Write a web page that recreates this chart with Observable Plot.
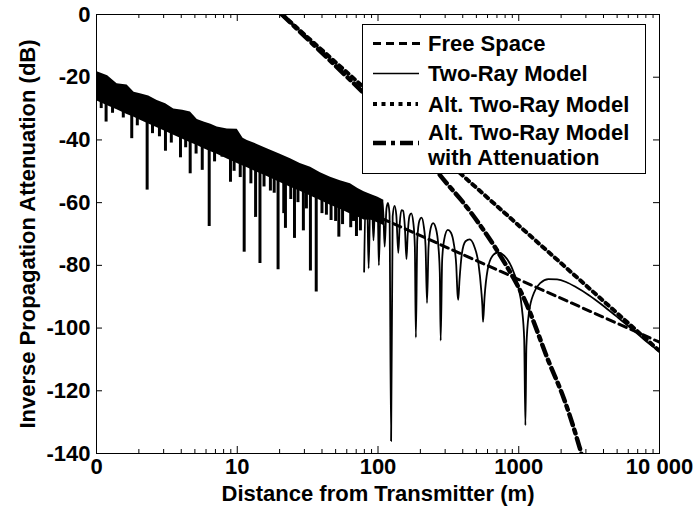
<!DOCTYPE html>
<html><head><meta charset="utf-8">
<script src="https://cdn.jsdelivr.net/npm/d3@7"></script>
<script src="https://cdn.jsdelivr.net/npm/@observablehq/plot@0.6"></script>
<style>
body{margin:0;background:#fff;}
#wrap{position:relative;width:693px;height:511px;overflow:hidden;}
#legend{position:absolute;left:362px;top:24px;width:284px;height:150px;box-sizing:border-box;border:1px solid #000;background:#fff;}
</style></head><body><div id="wrap"></div>
<script>
// ---- data ----
const freeSpaceD = [1, 10000];
const freeSpaceDb = [-24.5, -104.5];

const altD = [20.8, 10000];
const altDb = [0, -107.3];

const attD = [20.8, 50, 100, 150, 200, 310, 392, 565, 716, 1114, 1636, 2097, 2692, 2950];
const attDb = [0, -16.4, -29.5, -37.5, -43.5, -54, -59.3, -68.9, -75.9, -91.5, -110.8, -122.6, -137.7, -144];

// dense (unresolved) part of the two-ray curve: band envelope
const massD = [1, 1.2, 1.4, 1.65, 1.85, 2.05, 2.35, 2.7, 3.1, 3.54, 4.1, 4.65, 5.2, 5.8, 6.5, 7.2, 8.5, 10, 11, 11.8, 14, 16.3, 20, 23.9, 28, 33.2, 39, 46, 54, 63.7, 72, 79.7, 90, 100, 110];
const massTop = [-18.2, -19.5, -22.1, -22.5, -24.8, -25.3, -26, -27.4, -28.5, -30.1, -30.5, -31.1, -33.5, -34.3, -35, -35.9, -36.5, -36.6, -39.5, -40.2, -41.5, -42.8, -44.5, -46.0, -47.5, -48.7, -50.5, -51.9, -53, -54.0, -55.5, -56.5, -57.5, -58.3, -59.2];
const massBottom = [-27.5, -29.1, -30.4, -31.9, -32.8, -33.7, -34.9, -36.1, -37.3, -38.5, -39.8, -40.9, -41.8, -42.8, -43.8, -44.6, -46.1, -47.5, -48.3, -48.9, -50.4, -51.7, -53.5, -55.1, -56.4, -57.9, -59.3, -60.8, -62.1, -63.6, -64.6, -65.5, -65.6, -66.5, -67.3];

// sampled nulls showing as spikes in the dense part
const spikeD = [1.08, 1.17, 1.3, 1.55, 1.78, 1.95, 2.29, 2.5, 2.8, 3.09, 3.4, 3.95, 4.3, 4.63, 5.1, 5.64, 6.32, 6.9, 7.8, 8.95, 9.5, 10.5, 11.2, 12.5, 13.5, 14.5, 15.5, 17.2, 18.3, 19.5, 21.4, 22, 24, 25.5, 27, 29.5, 31, 33.1, 36.4, 40, 43, 46.4, 50, 52.7, 56, 58.7, 64, 67, 70.3, 75];
const spikeTop = [-26, -26, -28, -30, -30, -31, -31, -34, -35, -34, -36, -36, -37, -37.5, -39, -39, -40, -41, -42, -43.5, -44, -45, -45, -46, -47, -47.5, -48, -49, -49.5, -50, -51, -51, -52, -52.5, -53, -53.5, -54, -54.5, -55.5, -56.5, -57, -57.5, -58, -58.5, -59, -59.5, -60.5, -60.5, -61, -62];
const spikeDepth = [-30, -34.3, -31.5, -33, -39.6, -35.5, -56, -38, -39, -43.6, -41, -45.7, -42.5, -50.8, -44.5, -49.7, -67.6, -47, -45.5, -53.5, -50, -52, -75.8, -54, -64.7, -79.4, -55, -56.3, -57, -81.4, -63.5, -68.2, -59, -71.4, -60, -69, -62, -81.8, -88.5, -63.5, -64, -65.7, -66, -71, -67, -62, -68, -66, -70.8, -69];

// resolved lobes of the two-ray curve
const lobeD = [79.7, 81.8, 83.7, 85.8, 88.2, 90.4, 92.9, 95.5, 98.0, 100.0, 101.4, 104.4, 106.9, 109.3, 111.5, 114.8, 117.7, 120.7, 123.9, 127.1, 131.0, 134.9, 139.4, 142.8, 146.8, 150.7, 155.1, 159.3, 162.5, 167.5, 172.4, 178.3, 182.7, 185.8, 190.1, 197.0, 203.9, 211.8, 217.7, 223.0, 228.5, 236.4, 246.3, 258.1, 267.9, 274.8, 278.8, 285.7, 295.5, 313.2, 330.0, 346.7, 359.5, 367.4, 371.7, 379.2, 394.0, 418.6, 448.2, 482.7, 517.1, 541.8, 551.6, 557.5, 571.3, 600.9, 650.1, 709.2, 788, 886.5, 985, 1054, 1093, 1115, 1133, 1182, 1281, 1428, 1625, 1872, 2167, 2561, 3152, 3940, 4925, 6403, 7880, 10000];
const lobeDb = [-82, -57.7, -58.6, -81, -58.5, -59.0, -72, -59.5, -59.1, -65.3, -80, -60.4, -59.4, -64.1, -74, -62.0, -60.1, -63.5, -136, -64.4, -61.0, -63.9, -76, -66.6, -62.4, -62.6, -67.5, -78, -70.3, -64.2, -63.4, -66.5, -73.9, -103, -71.9, -65.7, -64.8, -67.8, -73.9, -92, -74.4, -68.3, -66.5, -68.3, -73.4, -82.3, -104, -78.2, -71.7, -68.7, -69.6, -73.5, -79.8, -89.2, -91, -84.8, -76.4, -72.3, -71.7, -73.9, -79.4, -88.1, -93, -98, -90.2, -81.4, -77.0, -75.9, -76.9, -80.4, -86.4, -93.9, -103.5, -131, -105.9, -95.1, -88.8, -85.6, -84.4, -84.5, -85.3, -87.0, -89.5, -92.7, -96.2, -100.4, -103.9, -107.5];

const xTicks = [1, 10, 100, 1000, 10000];
const xTickLabels = ["0", "10", "100", "1000", "10 000"];
const xMinor = [2,3,4,5,6,7,8,9,20,30,40,50,60,70,80,90,200,300,400,500,600,700,800,900,2000,3000,4000,5000,6000,7000,8000,9000];
const yTicks = [0, -20, -40, -60, -80, -100, -120, -140];

const xLabel = "Distance from Transmitter (m)";
const yLabel = "Inverse Propagation Attenuation (dB)";
const legendLabels = ["Free Space", "Two-Ray Model", "Alt. Two-Ray Model", "Alt. Two-Ray Model", "with Attenuation"];

// ---- tables ----
const zip = (xs, ys) => xs.map((d, i) => ({d, v: ys[i]}));
const fs = zip(freeSpaceD, freeSpaceDb);
const alt = zip(altD, altDb);
const att = zip(attD, attDb);
const lobes = zip(lobeD, lobeDb);
const mass = massD.map((d, i) => ({d, hi: massTop[i], lo: massBottom[i]}));
const spikes = spikeD.map((d, i) => ({d, top: spikeTop[i], depth: spikeDepth[i]}));

const font = "'Liberation Sans', Arial, Helvetica, sans-serif";

const chart = Plot.plot({
  width: 693, height: 511,
  marginLeft: 96, marginRight: 34, marginTop: 14, marginBottom: 58,
  style: {fontFamily: font, fontSize: "22px", fontWeight: "bold", background: "white", color: "black", overflow: "visible"},
  x: {type: "log", domain: [1, 10000], label: null},
  y: {domain: [-140, 0], label: null},
  marks: [
    Plot.areaY(mass, {x: "d", y1: "lo", y2: "hi", fill: "black", clip: true}),
    Plot.ruleX(spikes, {x: "d", y1: "top", y2: "depth", stroke: "black", strokeWidth: 3, clip: true}),
    Plot.line(lobes, {x: "d", y: "v", stroke: "black", strokeWidth: 1.8, curve: "monotone-x", clip: true}),
    Plot.line(fs, {x: "d", y: "v", stroke: "black", strokeWidth: 3, strokeDasharray: "8,5", clip: true}),
    Plot.line(alt, {x: "d", y: "v", stroke: "black", strokeWidth: 4, strokeDasharray: "4,4.5", clip: true}),
    Plot.line(att, {x: "d", y: "v", stroke: "black", strokeWidth: 4.5, strokeDasharray: "11,5,4,5", curve: "monotone-x", clip: true}),
    Plot.frame({stroke: "black", strokeWidth: 1}),
    Plot.tickX(xTicks, {x: d => d, insetTop: 432, stroke: "black"}),
    Plot.tickX(xTicks, {x: d => d, insetBottom: 432, stroke: "black"}),
    Plot.tickX(xMinor, {x: d => d, insetTop: 435, stroke: "black"}),
    Plot.tickX(xMinor, {x: d => d, insetBottom: 435, stroke: "black"}),
    Plot.tickY(yTicks, {y: d => d, insetRight: 557, stroke: "black"}),
    Plot.tickY(yTicks, {y: d => d, insetLeft: 557, stroke: "black"}),
    Plot.axisX(xTicks, {tickSize: 0, tickPadding: 5, tickFormat: d => xTickLabels[xTicks.indexOf(d)]}),
    Plot.axisY(yTicks, {tickSize: 0, tickPadding: 6, tickFormat: d => String(d)}),
    Plot.text([xLabel], {frameAnchor: "bottom", dy: 40, text: d => d, textAnchor: "middle", lineAnchor: "middle", fontSize: 22, fontWeight: "bold"}),
    Plot.text([yLabel], {frameAnchor: "left", dx: -69, rotate: -90, text: d => d, textAnchor: "middle", lineAnchor: "middle", fontSize: 22, fontWeight: "bold"})
  ]
});

const wrap = document.getElementById("wrap");
wrap.appendChild(chart);

// ---- legend (inside the axes, white box) ----
const legend = document.createElement("div");
legend.id = "legend";
const rows = [18.5, 48.5, 79, 107.5, 132.5];
const sampleY = [18.5, 48.5, 79, 118];
const sampleStyle = [
  {w: 3, dash: "8,5", x2: 58},
  {w: 1.6, dash: "none", x2: 56},
  {w: 4, dash: "4,4.5", x2: 55},
  {w: 4.5, dash: "13,5,4,5", x2: 56}
];
let svg = `<svg width="282" height="148" xmlns="http://www.w3.org/2000/svg" style="font-family:${font};font-weight:bold;font-size:22px">`;
sampleStyle.forEach((s, i) => {
  svg += `<line x1="10" x2="${s.x2}" y1="${sampleY[i]}" y2="${sampleY[i]}" stroke="black" stroke-width="${s.w}" stroke-dasharray="${s.dash}"/>`;
});
legendLabels.forEach((t, i) => {
  svg += `<text x="65" y="${rows[i]}" dy="0.35em">${t}</text>`;
});
svg += `</svg>`;
legend.innerHTML = svg;
wrap.appendChild(legend);
</script>
</body></html>
